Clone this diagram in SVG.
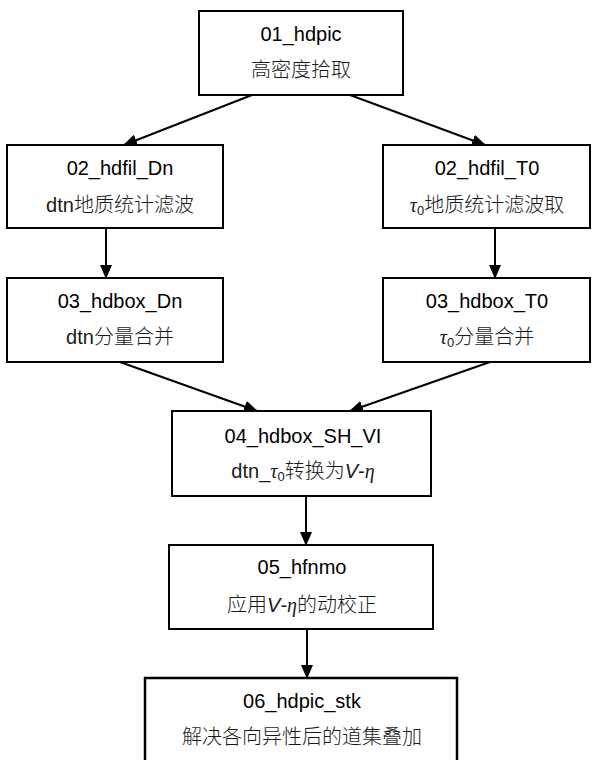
<svg xmlns="http://www.w3.org/2000/svg" width="592" height="760" viewBox="0 0 592 760">
<style>
.box{fill:#fff;stroke:#000;stroke-width:2}
.t{font-family:"Liberation Sans","Noto Sans CJK SC",sans-serif;font-size:20px;fill:#000;text-anchor:middle}
.c{font-family:"Liberation Sans","Noto Sans CJK SC",sans-serif;font-size:20px;font-weight:300;fill:#1a1a1a;text-anchor:middle}
.g{font-family:"Liberation Serif",serif;font-style:italic}
.v{font-family:"Liberation Sans",sans-serif;font-style:italic}
.s{font-family:"Liberation Sans",sans-serif;font-size:13px;font-style:normal}
.e{stroke:#000;stroke-width:2;fill:none}
</style>
<defs>
<marker id="ah" markerUnits="userSpaceOnUse" markerWidth="14" markerHeight="12" viewBox="0 0 14 12" refX="13" refY="6" orient="auto">
<path d="M0,0 L14,6 L0,12 Z" fill="#000"/>
</marker>
</defs>
<rect width="592" height="760" fill="#fff"/>
<g id="connectors">
<line class="e" x1="252" y1="95" x2="124" y2="145" marker-end="url(#ah)"/>
<line class="e" x1="350" y1="95" x2="485" y2="145" marker-end="url(#ah)"/>
<line class="e" x1="106" y1="228" x2="106" y2="278" marker-end="url(#ah)"/>
<line class="e" x1="495" y1="228" x2="495" y2="278" marker-end="url(#ah)"/>
<line class="e" x1="120" y1="362" x2="257" y2="411" marker-end="url(#ah)"/>
<line class="e" x1="490" y1="362" x2="350" y2="411" marker-end="url(#ah)"/>
<line class="e" x1="306" y1="496" x2="306" y2="545" marker-end="url(#ah)"/>
<line class="e" x1="307" y1="629" x2="307" y2="678" marker-end="url(#ah)"/>
</g>
<g id="n01">
<rect class="box" x="199" y="11" width="204" height="84"/>
<text class="t" x="301" y="41">01_hdpic</text>
<text class="c" x="301" y="77">高密度拾取</text>
</g>
<g id="n02a">
<rect class="box" x="7" y="145" width="216" height="83"/>
<text class="t" x="120" y="175">02_hdfil_Dn</text>
<text class="c" x="120" y="212">dtn地质统计滤波</text>
</g>
<g id="n02b">
<rect class="box" x="383" y="145" width="207" height="83"/>
<text class="t" x="487" y="175">02_hdfil_T0</text>
<text class="c" x="487" y="212"><tspan class="g">τ</tspan><tspan class="s" dy="3">0</tspan><tspan dy="-3">地质统计滤波取</tspan></text>
</g>
<g id="n03a">
<rect class="box" x="7" y="278" width="216" height="84"/>
<text class="t" x="120" y="308">03_hdbox_Dn</text>
<text class="c" x="120" y="344">dtn分量合并</text>
</g>
<g id="n03b">
<rect class="box" x="383" y="278" width="207" height="84"/>
<text class="t" x="487" y="308">03_hdbox_T0</text>
<text class="c" x="487" y="344"><tspan class="g">τ</tspan><tspan class="s" dy="3">0</tspan><tspan dy="-3">分量合并</tspan></text>
</g>
<g id="n04">
<rect class="box" x="172" y="411" width="259" height="85"/>
<text class="t" x="303" y="443">04_hdbox_SH_VI</text>
<text class="c" x="303" y="478">dtn_<tspan class="g">τ</tspan><tspan class="s" dy="3">0</tspan><tspan dy="-3">转换为</tspan><tspan class="v">V</tspan>-<tspan class="g">η</tspan></text>
</g>
<g id="n05">
<rect class="box" x="169" y="545" width="264" height="84"/>
<text class="t" x="302" y="574">05_hfnmo</text>
<text class="c" x="302" y="612">应用<tspan class="v">V</tspan>-<tspan class="g">η</tspan>的动校正</text>
</g>
<g id="n06">
<rect class="box" x="145" y="678" width="312" height="90" style="stroke-width:2.5"/>
<text class="t" x="302" y="708">06_hdpic_stk</text>
<text class="c" x="302" y="744">解决各向异性后的道集叠加</text>
</g>
</svg>
